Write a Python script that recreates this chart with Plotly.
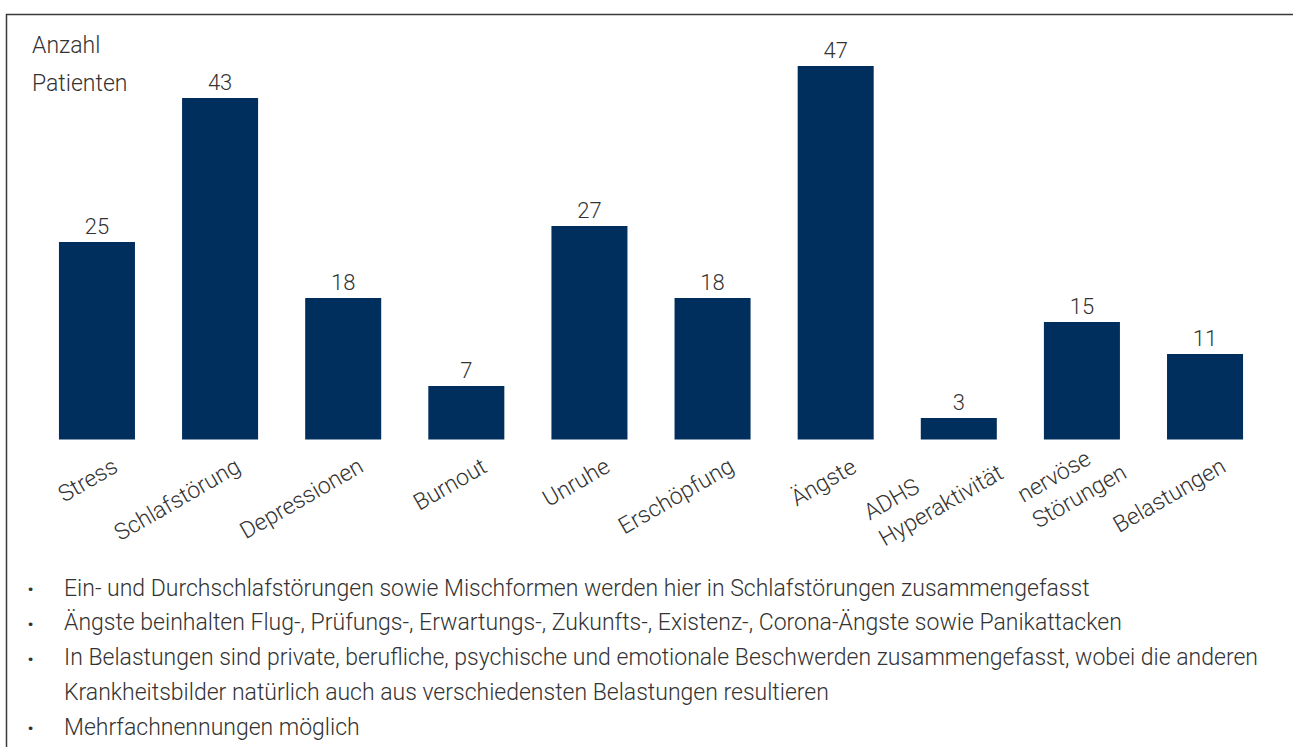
import plotly.graph_objects as go

# ---- data ----
categories = ["Stress", "Schlafstörung", "Depressionen", "Burnout", "Unruhe",
              "Erschöpfung", "Ängste", "ADHS<br>Hyperaktivität",
              "nervöse<br>Störungen", "Belastungen"]
values = [25, 43, 18, 7, 27, 18, 47, 3, 15, 11]
axis_title_lines = ["Anzahl", "Patienten"]
footnotes = [
    ["Ein- und Durchschlafstörungen sowie Mischformen werden hier in Schlafstörungen zusammengefasst"],
    ["Ängste beinhalten Flug-, Prüfungs-, Erwartungs-, Zukunfts-, Existenz-, Corona-Ängste sowie Panikattacken"],
    ["In Belastungen sind private, berufliche, psychische und emotionale Beschwerden zusammengefasst, wobei die anderen",
     "Krankheitsbilder natürlich auch aus verschiedensten Belastungen resultieren"],
    ["Mehrfachnennungen möglich"],
]

W, H = 1293, 747
BAR = "#002E5D"
TXT = "#333333"
FONT = "Roboto"


def px_x(p):
    return p / W


def px_y(p):
    return 1 - p / H


fig = go.Figure()
fig.add_trace(go.Bar(
    x=categories, y=values, marker_color=BAR, marker_line_width=0,
    text=[str(v) for v in values], textposition="outside",
    textfont=dict(family=FONT, size=22, color=TXT, weight=300),
    cliponaxis=False, showlegend=False, hoverinfo="skip",
))

annotations = []
# category labels (rotated, left-aligned lines)
for c in categories:
    nlines = c.count("<br>") + 1
    annotations.append(dict(
        x=c, xref="x", y=px_y(450), yref="paper", text=c, showarrow=False,
        textangle=-30, xanchor="right", yanchor="top", align="left",
        xshift=28 if nlines == 1 else 52,
        yshift=0 if nlines == 1 else 20,
        font=dict(family=FONT, size=23, color=TXT, weight=300),
    ))
# axis title
for i, line in enumerate(axis_title_lines):
    annotations.append(dict(
        x=px_x(30), y=px_y(46 + 37 * i), xref="paper", yref="paper", text=line,
        showarrow=False, xanchor="left", yanchor="middle",
        font=dict(family=FONT, size=23, color=TXT, weight=300),
    ))
# footnotes
ly = 588
for note in footnotes:
    for j, line in enumerate(note):
        if j == 0:
            annotations.append(dict(
                x=px_x(30), y=px_y(ly + 1), xref="paper", yref="paper", text="·",
                showarrow=False, xanchor="center", yanchor="middle",
                font=dict(family=FONT, size=24, color=TXT, weight=700),
            ))
        annotations.append(dict(
            x=px_x(62), y=px_y(ly), xref="paper", yref="paper", text=line,
            showarrow=False, xanchor="left", yanchor="middle",
            font=dict(family=FONT, size=23, color=TXT, weight=300),
        ))
        ly += 34.75

fig.update_layout(
    width=W, height=H, margin=dict(l=0, r=0, t=0, b=0),
    paper_bgcolor="white", plot_bgcolor="white",
    bargap=1 - 76 / 123.1,
    xaxis=dict(domain=[px_x(35.4), px_x(1266.6)], range=[-0.5, 9.5],
               showticklabels=False, showline=False, showgrid=False,
               zeroline=False, ticks=""),
    yaxis=dict(domain=[px_y(439.5), px_y(41.9)], range=[0.3, 50],
               visible=False),
    annotations=annotations,
    shapes=[dict(type="rect", xref="paper", yref="paper",
                 x0=px_x(6.5), x1=1.02, y0=-0.02, y1=px_y(14.5),
                 line=dict(color="#3a3a3a", width=1.5), fillcolor="rgba(0,0,0,0)")],
)

fig.write_html("out.html", config={"displayModeBar": False},
               post_script="document.body.style.margin='0';document.body.style.overflow='hidden';")
